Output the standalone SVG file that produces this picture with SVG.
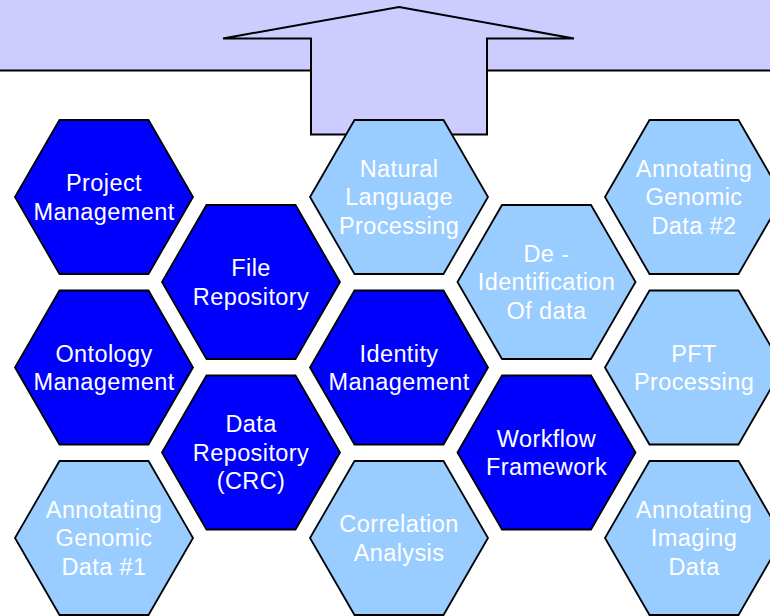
<svg xmlns="http://www.w3.org/2000/svg" xmlns:xlink="http://www.w3.org/1999/xlink" width="770" height="616" viewBox="0 0 770 616">
<style>
.dark{fill:#0000FF;stroke:#000;stroke-width:1.8;stroke-linejoin:miter}
.light{fill:#99CCFF;stroke:#000;stroke-width:1.8;stroke-linejoin:miter}
.band{fill:#CCCCFF;stroke:#000;stroke-width:2}
text{font-family:"Liberation Sans",Arial,sans-serif;font-size:23.5px;letter-spacing:0.4px;fill:#fff;text-anchor:middle}
</style>
<defs>
<polygon id="hex" points="-89,0 -44.5,-77 44.5,-77 89,0 44.5,77 -44.5,77"/>
</defs>
<rect width="770" height="616" fill="#fff"/>
<g id="band">
<rect class="band" x="-3" y="-3" width="776" height="73.5"/>
</g>
<g id="arrow">
<polygon class="band" points="399,7 574,38.5 487,38.5 487,134.5 311,134.5 311,38.5 223,38.5"/>
</g>
<g id="connectors"></g>
<g id="project-management" transform="translate(104,197)">
<use xlink:href="#hex" class="dark"/>
<text y="-6">Project</text><text y="22.6">Management</text>
</g>
<g id="ontology-management" transform="translate(104,367.5)">
<use xlink:href="#hex" class="dark"/>
<text y="-6">Ontology</text><text y="22.6">Management</text>
</g>
<g id="annotating-genomic-1" transform="translate(104,538)">
<use xlink:href="#hex" class="light"/>
<text y="-20.3">Annotating</text><text y="8.3">Genomic</text><text y="36.9">Data #1</text>
</g>
<g id="file-repository" transform="translate(251,282)">
<use xlink:href="#hex" class="dark"/>
<text y="-6">File</text><text y="22.6">Repository</text>
</g>
<g id="data-repository" transform="translate(251,452.5)">
<use xlink:href="#hex" class="dark"/>
<text y="-20.3">Data</text><text y="8.3">Repository</text><text y="36.9">(CRC)</text>
</g>
<g id="nlp" transform="translate(399,197)">
<use xlink:href="#hex" class="light"/>
<text y="-20.3">Natural</text><text y="8.3">Language</text><text y="36.9">Processing</text>
</g>
<g id="identity-management" transform="translate(399,367.5)">
<use xlink:href="#hex" class="dark"/>
<text y="-6">Identity</text><text y="22.6">Management</text>
</g>
<g id="correlation-analysis" transform="translate(399,538)">
<use xlink:href="#hex" class="light"/>
<text y="-6">Correlation</text><text y="22.6">Analysis</text>
</g>
<g id="de-identification" transform="translate(546.5,282)">
<use xlink:href="#hex" class="light"/>
<text y="-20.3">De -</text><text y="8.3">Identification</text><text y="36.9">Of data</text>
</g>
<g id="workflow-framework" transform="translate(546.5,452.5)">
<use xlink:href="#hex" class="dark"/>
<text y="-6">Workflow</text><text y="22.6">Framework</text>
</g>
<g id="annotating-genomic-2" transform="translate(694,197)">
<use xlink:href="#hex" class="light"/>
<text y="-20.3">Annotating</text><text y="8.3">Genomic</text><text y="36.9">Data #2</text>
</g>
<g id="pft-processing" transform="translate(694,367.5)">
<use xlink:href="#hex" class="light"/>
<text y="-6">PFT</text><text y="22.6">Processing</text>
</g>
<g id="annotating-imaging" transform="translate(694,538)">
<use xlink:href="#hex" class="light"/>
<text y="-20.3">Annotating</text><text y="8.3">Imaging</text><text y="36.9">Data</text>
</g>
</svg>
